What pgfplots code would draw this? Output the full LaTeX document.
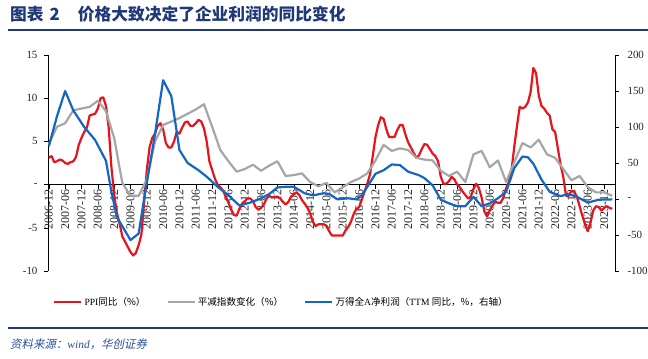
\documentclass[border=0pt]{standalone}
\usepackage{fontspec}
\setmainfont{Liberation Serif}
\newfontfamily\cjk{Noto Sans CJK SC}
\newfontfamily\cjkit{Noto Sans CJK SC}[FakeSlant=0.2]
\usepackage{pgfplots}
\pgfplotsset{compat=1.18}
\definecolor{ppired}{RGB}{232,20,28}
\definecolor{defgray}{RGB}{166,166,166}
\definecolor{profblue}{RGB}{18,103,196}
\definecolor{hcblue}{RGB}{31,56,120}
\definecolor{srcblue}{RGB}{40,80,160}

\pgfplotstableread{
m v
0 3.1
1 3.3
2 2.6
3 2.7
4 2.9
5 2.8
6 2.5
7 2.4
8 2.6
9 2.7
10 3.2
11 4.6
12 5.4
13 6.1
14 6.6
15 8.0
16 8.1
17 8.2
18 8.8
19 10.0
20 10.1
21 9.1
22 6.6
23 2.0
24 -1.1
25 -3.3
26 -4.5
27 -6.0
28 -6.6
29 -7.2
30 -7.8
31 -8.2
32 -7.9
33 -7.0
34 -5.8
35 -2.1
36 1.7
37 4.3
38 5.4
39 5.9
40 6.8
41 7.1
42 6.4
43 4.8
44 4.3
45 4.3
46 5.0
47 6.1
48 5.9
49 6.6
50 7.2
51 7.3
52 6.8
53 6.8
54 7.1
55 7.5
56 7.3
57 6.5
58 5.0
59 2.7
60 1.7
61 0.7
62 0.0
63 -0.3
64 -0.7
65 -1.4
66 -2.1
67 -2.9
68 -3.5
69 -3.6
70 -2.8
71 -2.2
72 -1.9
73 -1.6
74 -1.6
75 -1.9
76 -2.6
77 -2.9
78 -2.7
79 -2.3
80 -1.6
81 -1.3
82 -1.5
83 -1.4
84 -1.4
85 -1.6
86 -2.0
87 -2.3
88 -2.0
89 -1.4
90 -1.1
91 -0.9
92 -1.2
93 -1.8
94 -2.2
95 -2.7
96 -3.3
97 -4.3
98 -4.8
99 -4.6
100 -4.6
101 -4.6
102 -4.8
103 -5.4
104 -5.9
105 -5.9
106 -5.9
107 -5.9
108 -5.9
109 -5.3
110 -4.9
111 -4.3
112 -3.4
113 -2.8
114 -2.6
115 -1.7
116 -0.8
117 0.1
118 1.2
119 3.3
120 5.5
121 6.9
122 7.8
123 7.6
124 6.4
125 5.5
126 5.5
127 5.5
128 6.3
129 6.9
130 6.9
131 5.8
132 4.9
133 4.3
134 3.7
135 3.1
136 3.4
137 4.1
138 4.7
139 4.6
140 4.1
141 3.6
142 3.3
143 2.7
144 0.9
145 0.1
146 0.1
147 0.4
148 0.9
149 0.6
150 0.0
151 -0.3
152 -0.8
153 -1.2
154 -1.6
155 -1.4
156 -0.5
157 0.1
158 -0.4
159 -1.5
160 -3.1
161 -3.7
162 -3.0
163 -2.4
164 -2.0
165 -2.1
166 -2.1
167 -1.5
168 -0.4
169 0.3
170 1.7
171 4.4
172 6.8
173 9.0
174 8.8
175 9.0
176 9.5
177 10.7
178 13.5
179 12.9
180 10.3
181 9.1
182 8.8
183 8.3
184 8.0
185 6.4
186 6.1
187 4.2
188 2.3
189 0.9
190 -1.3
191 -1.3
192 -0.7
193 -0.8
194 -1.4
195 -2.5
196 -3.6
197 -4.6
198 -5.4
199 -4.4
200 -3.0
201 -2.5
202 -2.6
203 -3.0
204 -2.7
205 -2.5
206 -2.7
207 -2.8
}\ppitable

\pgfplotstableread{
m v
0 4.7
3 6.7
6 7.1
9 8.6
12 8.8
15 9.0
18 9.7
21 8.5
24 5.4
27 0.2
30 -1.3
33 -1.3
36 0.6
39 5.0
42 6.9
45 7.3
48 7.7
51 8.2
54 8.7
57 9.3
60 6.7
63 4.0
66 2.7
69 1.5
72 1.8
75 2.3
78 1.6
81 2.2
84 2.7
87 1.0
90 1.1
93 1.3
96 0.3
99 -0.2
102 0.2
105 -0.9
108 -0.3
111 0.3
114 0.7
117 1.3
120 2.8
123 4.6
126 3.9
129 4.2
132 4.0
135 3.1
138 2.9
141 2.8
144 1.6
147 1.0
150 1.5
153 0.3
156 3.5
159 3.9
162 2.0
165 2.8
168 0.3
171 2.6
174 4.8
177 4.3
180 5.2
183 3.5
186 3.1
189 1.8
192 0.5
195 1.0
198 -0.3
201 -0.9
204 -0.9
207 -1.3
}\deftable

\pgfplotstableread{
m v
0 73
3 115
6 150
9 123
13 100
17 82
21 53
23 10
25 -25
30 -57
33 -48
35 0
36 22
39 90
42 165
45 143
48 68
51 50
55 40
58 31
62 17
66 5
70 -9
74 -5
78 1
81 7
84 16
87 17
90 17
94 8
97 5
101 8
103 7
106 -0.5
110 1
113 -0.5
115 5
120 35
123 40
126 48
129 47
132 38
136 33
138 29
141 19
144 -1
147 -6
150 -10
153 -10
156 3
159 -10
162 -6
165 1
168 10
171 43
174 59
176 58
178 49
181 27
184 10
188 4
191 7
194 3
198 -5
202 -1
207 -0.5
}\proftable

\begin{document}
\begin{tikzpicture}
\useasboundingbox (0,0) rectangle (648bp,-359bp);
\fill[white] (0,0) rectangle (648bp,-359bp);
% title
\node[anchor=west, inner sep=0, text=hcblue, font=\fontsize{16.8}{18}\selectfont\cjk\bfseries] at (10bp,-14bp) {图表\hspace{6bp}2\hspace{18bp}价格大致决定了企业利润的同比变化};
\draw[hcblue, line width=1.8bp] (8bp,-30bp) -- (648bp,-30bp);
% footer
\draw[hcblue, line width=1.6bp] (8bp,-328bp) -- (648bp,-328bp);
\node[anchor=west, inner sep=0, text=srcblue, font=\fontsize{11.5}{13}\selectfont] at (10bp,-344bp) {{\cjkit 资料来源：}{\itshape wind}{\cjkit ，华创证券}};

\begin{axis}[
  at={(48bp,-271bp)}, anchor=south west,
  scale only axis, width=567bp, height=216bp,
  xmin=-0.3, xmax=208, ymin=-10, ymax=15,
  axis x line*=middle, axis y line*=left,
  axis line style={black, line width=0.7bp},
  tick align=outside, major tick length=4bp,
  tick style={black, line width=0.6bp},
  xtick={0,6,...,204},
  xticklabels={2006-12,2007-06,2007-12,2008-06,2008-12,2009-06,2009-12,2010-06,2010-12,2011-06,2011-12,2012-06,2012-12,2013-06,2013-12,2014-06,2014-12,2015-06,2015-12,2016-06,2016-12,2017-06,2017-12,2018-06,2018-12,2019-06,2019-12,2020-06,2020-12,2021-06,2021-12,2022-06,2022-12,2023-06,2023-12},
  xticklabel style={rotate=90, anchor=east, font=\fontsize{12}{13}\selectfont, inner sep=1bp, text=black!85},
  ytick={-10,-5,0,5,10,15},
  yticklabels={-10,-5,-,5,10,15},
  yticklabel style={font=\fontsize{11}{12}\selectfont, xshift=-3bp, text=black!85},
  legend style={at={(axis description cs:0.0035,-0.1435)}, anchor=west, draw=none, fill=none,
    legend columns=3, font=\fontsize{9.6}{12}\selectfont,
    /tikz/every even column/.append style={column sep=19bp}},
  legend cell align=left,
  legend image code/.code={\draw[#1, line width=2.4bp] (0bp,0bp) -- (27bp,0bp);},
]
\addplot[ppired, line width=2.2bp, line join=round] table[x=m, y=v] {\ppitable};
\addlegendentry{PPI{\cjk 同比（\%）}}
\addplot[defgray, line width=2.2bp, line join=round] table[x=m, y=v] {\deftable};
\addlegendentry{{\cjk 平减指数变化（\%）}}
\addlegendimage{profblue, line width=2.4bp}
\addlegendentry{{\cjk 万得全}A{\cjk 净利润（}TTM {\cjk 同比，\%，右轴）}}
\end{axis}

\begin{axis}[
  at={(48bp,-271bp)}, anchor=south west,
  scale only axis, width=567bp, height=216bp,
  xmin=-0.3, xmax=208, ymin=-100, ymax=200,
  axis x line=none, axis y line*=right,
  axis line style={black, line width=0.7bp},
  tick align=outside, major tick length=4bp,
  tick style={black, line width=0.6bp},
  ytick={-100,-50,0,50,100,150,200},
  yticklabels={-100,-50,-,50,100,150,200},
  yticklabel style={font=\fontsize{11}{12}\selectfont, xshift=5bp, text=black!85},
]
\addplot[profblue, line width=2.2bp, line join=round] table[x=m, y=v] {\proftable};
\end{axis}
\end{tikzpicture}
\end{document}
